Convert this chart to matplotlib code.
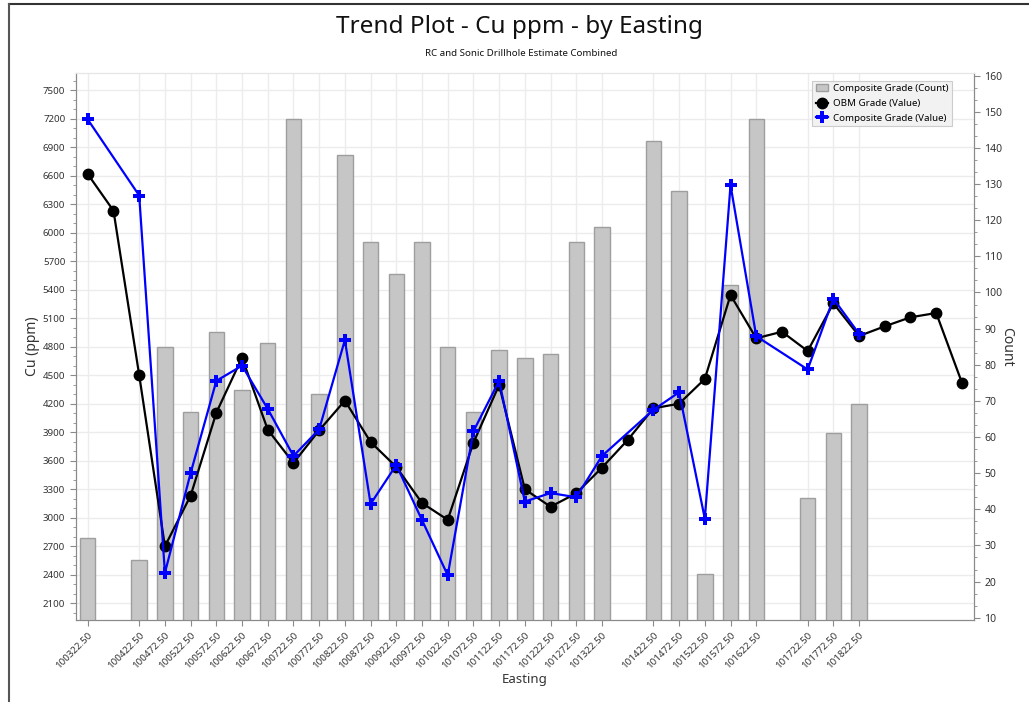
import matplotlib
matplotlib.use("Agg")
import matplotlib.pyplot as plt
import matplotlib.patches as mpatches
from matplotlib.ticker import FixedLocator, MultipleLocator, AutoMinorLocator
from matplotlib.lines import Line2D

plt.rcParams['font.family'] = ['Noto Sans', 'DejaVu Sans']

# ---- data ----
bar_eastings = [100322.5, 100422.5, 100472.5, 100522.5, 100572.5, 100622.5, 100672.5,
                100722.5, 100772.5, 100822.5, 100872.5, 100922.5, 100972.5, 101022.5,
                101072.5, 101122.5, 101172.5, 101222.5, 101272.5, 101322.5, 101422.5,
                101472.5, 101522.5, 101572.5, 101622.5, 101722.5, 101772.5, 101822.5]
comp_count = [32, 26, 85, 67, 89, 73, 86, 148, 72, 138, 114, 105, 114, 85,
              67, 84, 82, 83, 114, 118, 142, 128, 22, 102, 148, 43, 61, 69]
comp_value = [7190, 6390, 2420, 3470, 4440, 4600, 4145, 3650, 3930, 4870, 3145, 3555, 2975, 2395,
              3910, 4440, 3170, 3260, 3215, 3650, 4135, 4320, 2990, 6500, 4910, 4560, 5305, 4935]

obm_eastings = [100322.5, 100372.5, 100422.5, 100472.5, 100522.5, 100572.5, 100622.5,
                100672.5, 100722.5, 100772.5, 100822.5, 100872.5, 100922.5, 100972.5,
                101022.5, 101072.5, 101122.5, 101172.5, 101222.5, 101272.5, 101322.5,
                101372.5, 101422.5, 101472.5, 101522.5, 101572.5, 101622.5, 101672.5,
                101722.5, 101772.5, 101822.5, 101872.5, 101922.5, 101972.5, 102022.5]
obm_value = [6615, 6230, 4500, 2700, 3232, 4105, 4685, 3926, 3576, 3920, 4232, 3797, 3534, 3155,
             2978, 3790, 4397, 3299, 3116, 3257, 3527, 3818, 4151, 4200, 4460, 5343, 4888, 4957,
             4754, 5256, 4912, 5014, 5109, 5154, 4421]

tick_labels = [f"{e:.2f}" for e in bar_eastings]

title = "Trend Plot - Cu ppm - by Easting"
subtitle = "RC and Sonic Drillhole Estimate Combined"

# ---- figure ----
fig = plt.figure(figsize=(10.29, 7.02), dpi=100)
pos = [75.7 / 1029, 1 - 620 / 702, (974 - 75.7) / 1029, (620 - 73.3) / 702]

ax1 = fig.add_axes(pos)          # left scale, grid
ax2 = ax1.twinx()                # right scale, bars
ax3 = fig.add_axes(pos, sharex=ax1, sharey=ax1)  # lines on top
ax3.set_zorder(ax2.get_zorder() + 1)
ax3.patch.set_visible(False)
ax3.axis('off')

spine_col = '#8a8a8a'
tick_col = '#333333'
grid_col = '#ececec'

ax1.set_xlim(100299, 102046)
ax1.set_ylim(1924, 7676)
ax2.set_ylim(9.36, 160.66)

# grid
ax1.yaxis.set_major_locator(MultipleLocator(300))
ax1.yaxis.set_minor_locator(MultipleLocator(100))
ax1.xaxis.set_major_locator(FixedLocator(bar_eastings))
ax1.set_xticklabels(tick_labels, rotation=45, ha='right', rotation_mode='anchor',
                    fontsize=7, color=tick_col)
ax1.grid(True, which='major', color=grid_col, linewidth=1.0)
ax1.set_axisbelow(True)

ax2.yaxis.set_major_locator(MultipleLocator(10))
ax2.yaxis.set_minor_locator(AutoMinorLocator(3))

# bars
ax2.bar(bar_eastings, comp_count, width=30, color='#c6c6c6', edgecolor='#9e9e9e',
        linewidth=1.0, label='Composite Grade (Count)', zorder=2)

# lines
l1, = ax3.plot(obm_eastings, obm_value, color='black', linewidth=1.6, marker='o',
               markersize=7.5, label='OBM Grade (Value)', zorder=3)
l2, = ax3.plot(bar_eastings, comp_value, color='#0000ff', linewidth=1.6, marker='P',
               markersize=8, markeredgewidth=0, label='Composite Grade (Value)', zorder=4)

# styling
for ax in (ax1, ax2):
    for s in ax.spines.values():
        s.set_color(spine_col)
    ax.spines['top'].set_color('#e6e6e6')
ax1.tick_params(axis='both', which='both', colors=spine_col, labelcolor=tick_col, labelsize=7)
ax1.tick_params(axis='y', which='major', length=4)
ax1.tick_params(axis='y', which='minor', length=2)
ax1.tick_params(axis='x', length=4)
ax2.tick_params(axis='y', which='both', colors=spine_col, labelcolor=tick_col, labelsize=7.5)
ax2.tick_params(axis='y', which='major', length=4)
ax2.tick_params(axis='y', which='minor', length=2)

ax1.set_ylabel('Cu (ppm)', fontsize=10, color='#333333', labelpad=2)
ax2.set_ylabel('Count', fontsize=10, color='#333333', rotation=-90, labelpad=8)
ax1.set_xlabel('Easting', fontsize=9.5, color='#333333', labelpad=2)

# legend
h_bar = mpatches.Patch(facecolor='#c6c6c6', edgecolor='#9e9e9e', label='Composite Grade (Count)')
leg = ax3.legend(handles=[h_bar, l1, l2], loc='upper right', bbox_to_anchor=(0.9755, 0.9865),
                 fontsize=7, frameon=True, fancybox=False, framealpha=1,
                 handlelength=1.3, handletextpad=0.5, borderpad=0.35, labelspacing=0.6,
                 borderaxespad=0)
leg.get_frame().set_facecolor('#f2f2f2')
leg.get_frame().set_edgecolor('#cccccc')
leg.get_frame().set_linewidth(0.8)

# titles
fig.text(520 / 1029, 1 - 27 / 702, title, ha='center', va='center', fontsize=17.5, color='#111111')
fig.text(521 / 1029, 1 - 53 / 702, subtitle, ha='center', va='center', fontsize=7, color='#111111')

# window border
fig.add_artist(Line2D([8.7 / 1029, 1], [1 - 4.3 / 702, 1 - 4.3 / 702], color='#333333', linewidth=1.5))
fig.add_artist(Line2D([8.7 / 1029, 8.7 / 1029], [0, 1 - 4.3 / 702], color='#555555', linewidth=1.5))

fig.savefig('out.png', dpi=100)
